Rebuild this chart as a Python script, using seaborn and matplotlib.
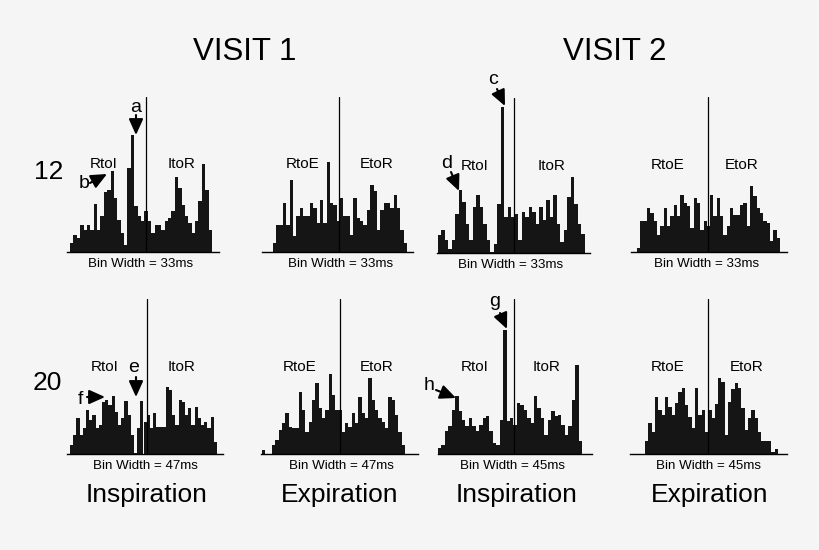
import matplotlib
matplotlib.use("Agg")
import matplotlib.pyplot as plt
import seaborn as sns

# bar heights per panel (counts)
v1_12_insp = [9, 17, 14, 27, 22, 27, 22, 48, 22, 36, 60, 62, 81, 54, 32, 19, 7, 84, 117, 46, 36,
              31, 41, 31, 19, 27, 27, 22, 31, 34, 41, 75, 64, 47, 36, 29, 19, 31, 51, 88, 62, 22]
v1_12_exp = [9, 27, 27, 49, 27, 72, 16, 36, 44, 36, 36, 49, 44, 29, 52, 29, 90, 49, 47, 31,
             54, 36, 36, 17, 54, 34, 31, 27, 42, 67, 61, 22, 42, 49, 49, 44, 57, 44, 22, 9]
v2_12_insp = [18, 23, 13, 4, 13, 39, 63, 51, 29, 13, 46, 58, 46, 29, 13, 1, 9, 49, 146, 36, 46,
              36, 39, 13, 41, 36, 46, 41, 29, 46, 33, 53, 36, 58, 29, 11, 23, 56, 76, 49, 29, 19]
v2_12_exp = [4, 31, 31, 44, 39, 31, 17, 26, 44, 26, 36, 47, 36, 57, 49, 46, 24, 54, 49, 22, 31, 26,
             57, 36, 54, 36, 17, 26, 44, 37, 37, 47, 49, 26, 66, 56, 44, 39, 31, 29, 11, 22, 14]
v1_20_insp = [9, 19, 36, 19, 26, 44, 34, 39, 26, 29, 52, 54, 49, 58, 42, 29, 36, 53, 39, 19, 1, 26, 53,
              32, 39, 26, 41, 27, 27, 27, 67, 64, 39, 29, 54, 52, 39, 46, 29, 47, 36, 29, 32, 26, 37, 12]
v1_20_exp = [4, 0, 0, 9, 14, 24, 31, 41, 27, 26, 26, 62, 44, 22, 32, 54, 71, 46, 36, 44, 80, 59,
             44, 44, 22, 31, 27, 41, 31, 57, 41, 36, 76, 54, 44, 36, 32, 26, 57, 54, 39, 22, 9]
v2_20_insp = [6, 9, 23, 28, 44, 58, 43, 34, 28, 36, 28, 23, 29, 36, 38, 23, 11, 9, 34, 124, 33,
              36, 29, 51, 49, 44, 36, 31, 58, 46, 36, 19, 34, 43, 38, 39, 29, 19, 28, 54, 89, 13]
v2_20_exp = [13, 31, 22, 57, 44, 39, 57, 47, 39, 51, 62, 66, 49, 37, 26, 66, 39, 44, 22, 44,
             36, 50, 76, 72, 19, 52, 65, 71, 66, 46, 24, 36, 44, 36, 22, 13, 13, 13, 2, 5]

panels = [v1_12_insp, v1_12_exp, v2_12_insp, v2_12_exp,
          v1_20_insp, v1_20_exp, v2_20_insp, v2_20_exp]
zero_bin = [22.6, 19.8, 21.6, 21.5, 24.0, 23.5, 22.3, 19.0]   # bin where the reference line sits
bin_width = ["33", "33", "33", "33", "47", "47", "45", "45"]
left_lbl = ["RtoI", "RtoE", "RtoI", "RtoE", "RtoI", "RtoE", "RtoI", "RtoE"]
right_lbl = ["ItoR", "EtoR", "ItoR", "EtoR", "ItoR", "EtoR", "ItoR", "EtoR"]
y_top = 155

# layout in pixels: axes left/right, first/last bar edge, baseline y
W, H = 820, 550
layout = [(67, 219, 70, 212, 252), (262, 413, 273, 407, 252),
          (437, 590, 438, 585, 253), (631, 787, 637, 780, 252),
          (67, 223, 70, 217, 454), (261, 418, 262, 405, 454),
          (438, 592, 438, 582, 454), (630, 787, 645, 778, 454)]
lbl_pos = [(104, 182, 164), (303, 377, 164), (475, 552, 166), (668, 742, 165),
           (105, 182, 367), (300, 377, 367), (475, 547, 367), (668, 747, 367)]
bw_x = [141, 341, 511, 707, 145, 341, 513, 709]

sns.set_style("white")
plt.rcParams["font.family"] = ["Liberation Sans", "DejaVu Sans"]
plt.rcParams["text.color"] = "black"
bg = "#f5f5f5"
bar_col = "#151515"

fig = plt.figure(figsize=(W / 100, H / 100), dpi=100, facecolor=bg)

def fx(px):
    return px / W

def fy(py):
    return 1 - py / H

for i, h in enumerate(panels):
    L, R, b0, b1, base = layout[i]
    ax = fig.add_axes([fx(L), fy(base), (R - L) / W, y_top / H])
    ax.set_facecolor("none")
    n = len(h)
    sns.barplot(x=list(range(n)), y=h, color=bar_col, width=1, linewidth=0,
                saturation=1, errorbar=None, ax=ax)
    bwp = (b1 - b0) / n
    ax.set_xlim(-0.5 - (b0 - L) / bwp, n - 0.5 + (R - b1) / bwp)
    ax.set_ylim(0, y_top)
    ax.axvline(zero_bin[i] - 0.5, ymin=0, ymax=1, color="k", lw=0.9)
    for s in ["top", "left", "right"]:
        ax.spines[s].set_visible(False)
    ax.spines["bottom"].set_linewidth(1.0)
    ax.spines["bottom"].set_color("k")
    ax.set_xticks([])
    ax.set_yticks([])
    ax.set_xlabel("")
    ax.set_ylabel("")
    xl, xr, ly = lbl_pos[i]
    fig.text(fx(xl), fy(ly), left_lbl[i], ha="center", va="center", fontsize=11)
    fig.text(fx(xr), fy(ly), right_lbl[i], ha="center", va="center", fontsize=11)
    fig.text(fx(bw_x[i]), fy(base + 12), "Bin Width = " + bin_width[i] + "ms",
             ha="center", va="center", fontsize=9.6)

# headings
fig.text(fx(245), fy(52), "VISIT 1", ha="center", va="center", fontsize=22.5)
fig.text(fx(615), fy(52), "VISIT 2", ha="center", va="center", fontsize=22.5)
fig.text(fx(49), fy(172), "12", ha="center", va="center", fontsize=19)
fig.text(fx(47), fy(383), "20", ha="center", va="center", fontsize=19)
for x, t in zip([147, 340, 517, 710], ["Inspiration", "Expiration", "Inspiration", "Expiration"]):
    fig.text(fx(x), fy(495), t, ha="center", va="center", fontsize=19)

# lettered arrows
arrows = [("a", (136, 107), (136, 115), (136, 135)),
          ("b", (84, 184), (90, 183), (107, 174)),
          ("c", (493, 80), (497, 89), (505, 106)),
          ("d", (447, 163), (451, 172), (459, 191)),
          ("e", (134, 367), (136, 377), (136, 397)),
          ("f", (80, 399), (87, 397), (105, 397)),
          ("g", (495, 302), (500, 313), (507, 329)),
          ("h", (429, 386), (436, 390), (456, 398))]
for t, tp, a0, a1 in arrows:
    fig.text(fx(tp[0]), fy(tp[1]), t, ha="center", va="center", fontsize=14)
    fig.add_artist(matplotlib.patches.FancyArrowPatch(
        (fx(a0[0]), fy(a0[1])), (fx(a1[0]), fy(a1[1])), transform=fig.transFigure,
        arrowstyle="-|>,head_length=0.8,head_width=0.36", mutation_scale=12,
        color="k", lw=1.5, shrinkA=0, shrinkB=0))

fig.savefig("out.png", dpi=100, facecolor=bg)
